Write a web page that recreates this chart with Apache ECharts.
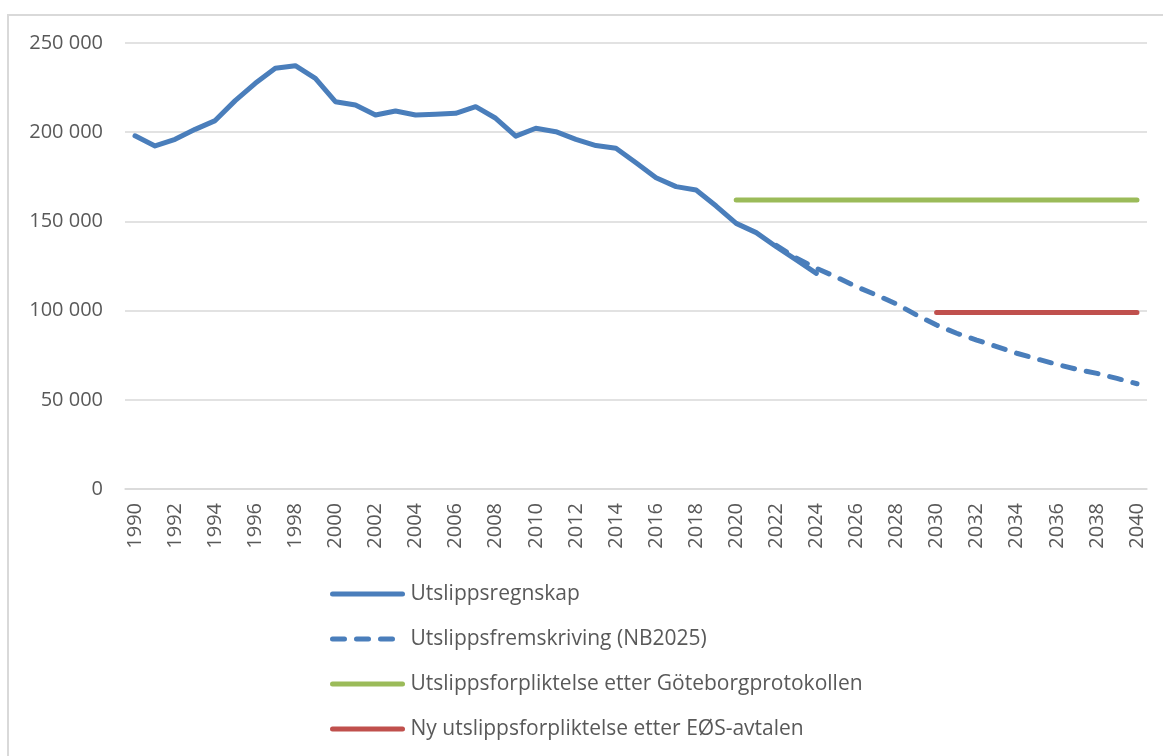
<!DOCTYPE html>
<html>
<head>
<meta charset="utf-8">
<script src="https://cdn.jsdelivr.net/npm/echarts@6/dist/echarts.min.js"></script>
<style>
  html, body { margin: 0; padding: 0; background: #fff; }
  #frame {
    position: absolute; left: 7px; top: 14px; right: 0; bottom: 0;
    border-left: 2px solid #d9d9d9; border-top: 2px solid #d9d9d9;
  }
  #chart { position: absolute; left: 0; top: 0; width: 1163px; height: 756px; }
</style>
</head>
<body>
<div id="frame"></div>
<div id="chart"></div>
<script>
// år 1990-2040
const years = [];
for (let y = 1990; y <= 2040; y++) years.push(String(y));

// Utslippsregnskap 1990-2024
const regnskap = [
  198000, 192300, 196000, 201600, 206500, 217700, 227400, 235800, 237300, 230200,
  217100, 215200, 209600, 211900, 209600, 210000, 210600, 214300, 207800, 197800,
  202200, 200300, 196000, 192500, 191000, 182900, 174500, 169500, 167600, 158600,
  148900, 143700, 135800, 128400, 120900
];

// Utslippsfremskriving (NB2025) 2022-2040
const fremskrivingStart = 2022;
const fremskriving = [
  136500, 129500, 123700, 118800, 113400, 108700, 103700, 97500, 91900, 87300,
  83500, 79800, 76100, 72900, 69900, 67100, 64800, 62000, 59000
];

// forpliktelser
const goteborgStart = 2020, goteborgVerdi = 162000;
const eosStart = 2030, eosVerdi = 99000;

const yTicks = [0, 50000, 100000, 150000, 200000, 250000];

function pad(arr, startYear) {
  const out = years.map(() => null);
  arr.forEach((v, i) => { out[startYear - 1990 + i] = v; });
  return out;
}
function flat(startYear, val) {
  return years.map(y => (+y >= startYear ? val : null));
}

const font = '"Open Sans", "Noto Sans", sans-serif';
const grey = '#595959';

const chart = echarts.init(document.getElementById('chart'));
chart.setOption({
  animation: false,
  grid: { left: 125, right: 16, top: 43, bottom: 267 },
  legend: {
    orient: 'vertical',
    left: 325,
    top: 577,
    itemWidth: 70,
    itemHeight: 24,
    itemGap: 21,
    itemStyle: { opacity: 0 },
    lineStyle: { width: 5, cap: 'round' },
    textStyle: { fontFamily: font, fontSize: 21, lineHeight: 24, color: grey, padding: [0, 0, 0, 3] },
    data: [
      'Utslippsregnskap',
      'Utslippsfremskriving (NB2025)',
      'Utslippsforpliktelse etter Göteborgprotokollen',
      'Ny utslippsforpliktelse etter EØS-avtalen'
    ]
  },
  xAxis: {
    type: 'category',
    data: years,
    boundaryGap: true,
    axisLine: { lineStyle: { color: '#d9d9d9', width: 1.5 } },
    axisTick: { show: false },
    axisLabel: {
      interval: 1,
      rotate: 90,
      color: grey,
      fontFamily: font,
      fontSize: 20,
      margin: 14
    }
  },
  yAxis: {
    type: 'value',
    min: yTicks[0],
    max: yTicks[yTicks.length - 1],
    interval: 50000,
    axisLine: { show: false },
    axisTick: { show: false },
    splitLine: { lineStyle: { color: '#d9d9d9', width: 1.5 } },
    axisLabel: {
      color: grey,
      fontFamily: font,
      fontSize: 20,
      margin: 22,
      formatter: v => String(v).replace(/\B(?=(\d{3})+(?!\d))/g, ' ')
    }
  },
  series: [
    {
      name: 'Utslippsregnskap',
      type: 'line',
      data: pad(regnskap, 1990),
      symbol: 'none',
      color: '#4a7ebb',
      lineStyle: { width: 5, color: '#4a7ebb', cap: 'round', join: 'round' },
      z: 5
    },
    {
      name: 'Utslippsfremskriving (NB2025)',
      type: 'line',
      data: pad(fremskriving, fremskrivingStart),
      symbol: 'none',
      color: '#4a7ebb',
      lineStyle: { width: 5, color: '#4a7ebb', type: [12, 12], cap: 'round' },
      z: 4
    },
    {
      name: 'Utslippsforpliktelse etter Göteborgprotokollen',
      type: 'line',
      data: flat(goteborgStart, goteborgVerdi),
      symbol: 'none',
      color: '#9bbb59',
      lineStyle: { width: 5, color: '#9bbb59', cap: 'round' },
      z: 3
    },
    {
      name: 'Ny utslippsforpliktelse etter EØS-avtalen',
      type: 'line',
      data: flat(eosStart, eosVerdi),
      symbol: 'none',
      color: '#c0504d',
      lineStyle: { width: 5, color: '#c0504d', cap: 'round' },
      z: 3
    }
  ]
});
</script>
</body>
</html>
